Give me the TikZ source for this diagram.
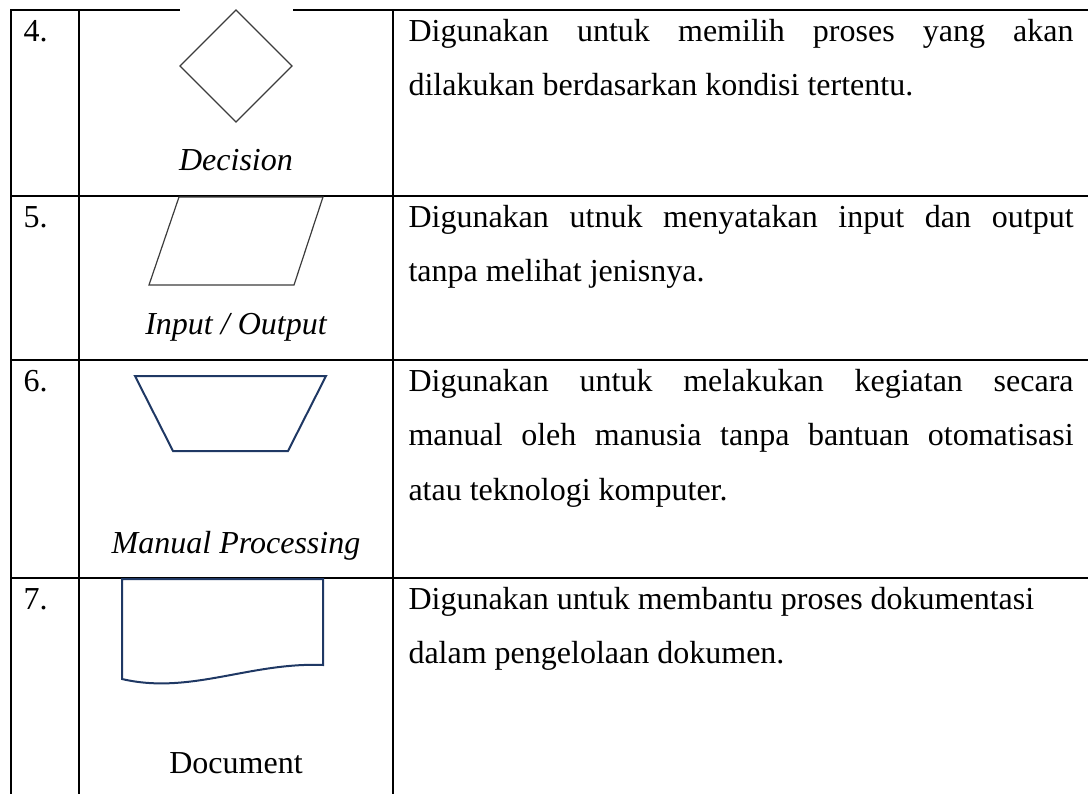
\documentclass[tikz,border=0pt]{standalone}
\usepackage{fontspec}
\setmainfont{Liberation Serif}
\usepackage{xcolor}
\usepackage{tikz}
\usetikzlibrary{calc}
\definecolor{navy}{HTML}{1F3864}
\definecolor{symgray}{HTML}{3C3C3C}
\tikzset{>=latex}
\tikzstyle{grid} = [-, draw = black, line width = 0.75pt, line cap = rect]
\tikzstyle{celltext} = [inner sep = 0pt, font = \fontsize{12}{20.6}\selectfont]
\tikzstyle{num} = [celltext, anchor = base west]
\tikzstyle{lab} = [celltext, anchor = base, font = \fontsize{12}{20.6}\selectfont\itshape]
\tikzstyle{desc} = [celltext, anchor = base west, text width = 249.4pt, align = justify]
\tikzstyle{grayline} = [draw = symgray, line width = 0.45pt]
\tikzstyle{navyline} = [draw = navy, line width = 0.75pt, line join = miter]

\begin{document}
\begin{tikzpicture}[x = 0.375pt, y = -0.375pt]
\useasboundingbox (0, 0) rectangle (1088, 794);
% table rules
\foreach \y in {10, 196, 360, 578}
  \draw [grid] (11, \y) -- (1088, \y);
\foreach \x in {11, 79, 393}
  \draw [grid] (\x, 10) -- (\x, 794);
\fill [white] (180, 7.5) rectangle (293, 12.5);
% row numbers
\node [num] (n4) at (23, 41) {4.};
\node [num] (n5) at (23, 227) {5.};
\node [num] (n6) at (23, 391) {6.};
\node [num] (n7) at (23, 609) {7.};
% symbols
\draw [grayline] (236, 10) -- (292, 66) -- (236, 122) -- (180, 66) -- cycle;
\draw [grayline] (179, 197) -- (323, 197) -- (294, 285) -- (149, 285) -- cycle;
\draw [navyline] (135, 376) -- (326, 376) -- (288, 451) -- (173, 451) -- cycle;
\draw [navyline] (323, 665) -- (323, 579) -- (122, 579) -- (122, 679)
  .. controls (190, 695) and (250, 662) .. (323, 665) -- cycle;
\node [lab] (decision) at (236, 170) {Decision};
\node [lab] (inout) at (236, 334) {Input / Output};
\node [lab] (manual) at (236, 553) {Manual Processing};
\node [lab, font = \fontsize{12}{20.6}\selectfont\upshape] (document) at (236, 773) {Document};
% descriptions
\node [desc] (d4) at (408, 41) {Digunakan untuk memilih proses yang akan\linebreak dilakukan berdasarkan kondisi tertentu.};
\node [desc] (d5) at (408, 227) {Digunakan utnuk menyatakan input dan output\linebreak tanpa melihat jenisnya.};
\node [desc] (d6) at (408, 391) {Digunakan untuk melakukan kegiatan secara\linebreak manual oleh manusia tanpa bantuan otomatisasi\linebreak atau teknologi komputer.};
\node [desc] (d7) at (408, 609) {Digunakan untuk membantu proses dokumentasi\\ dalam pengelolaan dokumen.};
\end{tikzpicture}
\end{document}
